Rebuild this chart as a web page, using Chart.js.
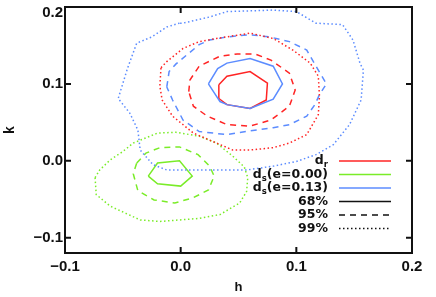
<!DOCTYPE html>
<html><head><meta charset="utf-8">
<script src="https://cdn.jsdelivr.net/npm/chart.js@4"></script>
<style>html,body{margin:0;padding:0;background:#fff}canvas{display:block}</style>
</head><body>
<canvas id="c" width="436" height="297"></canvas>
<script>
// ---- data (h, k) ----
const xTicks = [-0.1, 0.0, 0.1, 0.2];
const xTickLabels = ['\u22120.1', '0.0', '0.1', '0.2'];
const yTicks = [-0.1, 0.0, 0.1, 0.2];
const yTickLabels = ['\u22120.1', '0.0', '0.1', '0.2'];
const xTitle = 'h';
const yTitle = 'k';

// d_r contours
const dr68 = [[0.033,0.099],[0.040,0.110],[0.060,0.116],[0.075,0.101],[0.074,0.079],[0.060,0.068],[0.040,0.073],[0.033,0.081]];
const dr95 = [[0.007,0.090],[0.008,0.105],[0.016,0.123],[0.034,0.136],[0.049,0.139],[0.064,0.139],[0.078,0.131],[0.094,0.114],[0.099,0.092],[0.094,0.071],[0.078,0.053],[0.060,0.045],[0.040,0.047],[0.023,0.058],[0.011,0.071]];
const dr99 = [[-0.017,0.121],[-0.012,0.129],[0.002,0.146],[0.016,0.155],[0.031,0.159],[0.060,0.166],[0.080,0.159],[0.097,0.144],[0.112,0.127],[0.119,0.110],[0.120,0.084],[0.119,0.060],[0.109,0.034],[0.094,0.023],[0.080,0.017],[0.060,0.014],[0.045,0.014],[0.031,0.023],[0.011,0.036],[-0.007,0.058],[-0.016,0.079],[-0.018,0.097]];
// d_s(e=0.00) contours
const e00_68 = [[-0.028,-0.020],[-0.020,-0.003],[-0.001,0.000],[0.010,-0.020],[0.000,-0.033],[-0.020,-0.030]];
const e00_95 = [[-0.038,-0.003],[-0.030,0.010],[-0.018,0.017],[-0.001,0.018],[0.015,0.008],[0.025,-0.007],[0.029,-0.020],[0.024,-0.038],[0.011,-0.048],[-0.005,-0.055],[-0.023,-0.051],[-0.037,-0.039],[-0.041,-0.017]];
const e00_99 = [[-0.074,-0.022],[-0.070,-0.012],[-0.061,0.001],[-0.050,0.012],[-0.041,0.023],[-0.020,0.036],[-0.004,0.037],[0.016,0.032],[0.031,0.023],[0.045,0.006],[0.055,-0.008],[0.058,-0.022],[0.057,-0.040],[0.051,-0.055],[0.034,-0.070],[0.016,-0.075],[-0.018,-0.079],[-0.035,-0.077],[-0.061,-0.059],[-0.073,-0.044]];
// d_s(e=0.13) contours
const e13_68 = [[0.024,0.100],[0.032,0.120],[0.040,0.127],[0.060,0.133],[0.080,0.123],[0.088,0.100],[0.080,0.080],[0.060,0.068],[0.040,0.073],[0.034,0.077]];
const e13_95 = [[-0.012,0.096],[-0.010,0.116],[-0.004,0.126],[0.016,0.151],[0.025,0.157],[0.040,0.161],[0.060,0.164],[0.077,0.161],[0.094,0.155],[0.109,0.144],[0.117,0.123],[0.126,0.100],[0.120,0.086],[0.116,0.073],[0.109,0.058],[0.094,0.047],[0.080,0.043],[0.060,0.039],[0.040,0.034],[0.016,0.038],[0.002,0.053],[-0.007,0.079]];
const e13_99 = [[-0.001,0.179],[-0.012,0.174],[-0.025,0.161],[-0.038,0.153],[-0.046,0.120],[-0.054,0.081],[-0.044,0.062],[-0.037,0.040],[-0.035,0.014],[-0.024,-0.005],[-0.012,-0.012],[0.028,-0.012],[0.057,-0.012],[0.080,-0.007],[0.100,-0.001],[0.117,0.008],[0.132,0.021],[0.146,0.047],[0.156,0.079],[0.158,0.118],[0.155,0.127],[0.149,0.157],[0.140,0.177],[0.117,0.179],[0.100,0.194],[0.080,0.196],[0.040,0.194],[0.025,0.187],[0.002,0.179]];

// legend entries: [main, subscript, rest]
const seriesLegend = [['d','r',''],['d','s','(e=0.00)'],['d','s','(e=0.13)']];
const levelLegend = ['68%','95%','99%'];

// ---- styles ----
const RED = 'rgb(255,36,36)', GREEN = 'rgb(122,236,40)', BLUE = 'rgb(92,140,255)';
const seriesColors = [RED, GREEN, BLUE];
const DASH = [6,5], DOT = [1.5,2.5];
const levelDash = [[], DASH, DOT];

function ds(pts, color, dash) {
  const d = pts.map(p => ({x: p[0], y: p[1]}));
  d.push({x: pts[0][0], y: pts[0][1]});
  return {data: d, borderColor: color, borderWidth: 1.5, borderDash: dash,
          showLine: true, pointRadius: 0, fill: false, tension: 0};
}

const datasets = [
  ds(e13_99, BLUE, DOT), ds(dr99, RED, DOT), ds(e00_99, GREEN, DOT),
  ds(e13_95, BLUE, DASH), ds(dr95, RED, DASH), ds(e00_95, GREEN, DASH),
  ds(e13_68, BLUE, []), ds(dr68, RED, []), ds(e00_68, GREEN, [])
];

const frame = {
  id: 'frame',
  afterDatasetsDraw(chart) {
    const {ctx, chartArea: a, scales: {x, y}} = chart;
    ctx.save();
    ctx.strokeStyle = '#111';
    ctx.lineWidth = 2;
    ctx.setLineDash([]);
    ctx.strokeRect(a.left, a.top, a.right - a.left, a.bottom - a.top);
    const T = 6;
    ctx.beginPath();
    xTicks.forEach(v => {
      const px = x.getPixelForValue(v);
      ctx.moveTo(px, a.bottom); ctx.lineTo(px, a.bottom - T);
      ctx.moveTo(px, a.top); ctx.lineTo(px, a.top + T);
    });
    yTicks.forEach(v => {
      const py = y.getPixelForValue(v);
      ctx.moveTo(a.left, py); ctx.lineTo(a.left + T, py);
      ctx.moveTo(a.right, py); ctx.lineTo(a.right - T, py);
    });
    ctx.stroke();

    // legend
    const textRight = 328, lx0 = 339, lx1 = 391, y0 = 161, step = 13.5;
    const mainFont = 'bold 12.5px "DejaVu Sans"', subFont = 'bold 8.5px "DejaVu Sans"';
    ctx.fillStyle = '#111';
    ctx.textBaseline = 'middle';
    ctx.textAlign = 'left';
    const rows = [];
    seriesLegend.forEach((p, i) => rows.push({parts: p, color: seriesColors[i], dash: []}));
    levelLegend.forEach((t, i) => rows.push({parts: [t, '', ''], color: '#111', dash: levelDash[i]}));
    rows.forEach((r, i) => {
      const yy = y0 + i * step;
      ctx.font = mainFont; const w0 = ctx.measureText(r.parts[0]).width;
      ctx.font = subFont; const w1 = r.parts[1] ? ctx.measureText(r.parts[1]).width : 0;
      ctx.font = mainFont; const w2 = ctx.measureText(r.parts[2]).width;
      let xx = textRight - (w0 + w1 + w2);
      ctx.font = mainFont; ctx.fillText(r.parts[0], xx, yy); xx += w0;
      if (r.parts[1]) { ctx.font = subFont; ctx.fillText(r.parts[1], xx, yy + 4); xx += w1; }
      ctx.font = mainFont; ctx.fillText(r.parts[2], xx, yy);
      ctx.beginPath();
      ctx.strokeStyle = r.color; ctx.lineWidth = 1.6; ctx.setLineDash(r.dash);
      ctx.moveTo(lx0, yy); ctx.lineTo(lx1, yy); ctx.stroke();
    });
    ctx.restore();
  }
};

const tickFont = {family: '"Liberation Sans", Arial, sans-serif', size: 15, weight: 'bold', lineHeight: 0.8};

new Chart(document.getElementById('c'), {
  type: 'scatter',
  data: {datasets},
  options: {
    responsive: false, animation: false, devicePixelRatio: 1,
    layout: {padding: {left: 0, right: 24, top: 7, bottom: 0}},
    plugins: {legend: {display: false}, tooltip: {enabled: false}},
    scales: {
      x: {
        type: 'linear', min: -0.1, max: 0.2,
        afterBuildTicks: s => { s.ticks = xTicks.map(v => ({value: v})); },
        afterFit: s => { s.height = 44; s.paddingLeft = 0; s.paddingRight = 0; },
        grid: {display: false, drawTicks: false}, border: {display: false},
        ticks: {padding: 8, color: '#111', font: tickFont, maxRotation: 0, autoSkip: false,
                callback: (v, i) => xTickLabels[i]},
        title: {display: true, text: xTitle, color: '#111',
                font: {family: '"Liberation Sans", Arial, sans-serif', size: 13, weight: 'bold'},
                padding: {top: 0, bottom: 2}}
      },
      y: {
        type: 'linear', min: -0.12, max: 0.2,
        afterBuildTicks: s => { s.ticks = yTicks.map(v => ({value: v})); },
        afterFit: s => { s.width = 65; s.paddingTop = 0; s.paddingBottom = 0; },
        grid: {display: false, drawTicks: false}, border: {display: false},
        ticks: {padding: 2, color: '#111', font: tickFont, autoSkip: false,
                callback: (v, i) => i === yTicks.length - 1 ? ['', yTickLabels[i]] : yTickLabels[i]},
        title: {display: true, text: yTitle, color: '#111',
                font: {family: '"Liberation Sans", Arial, sans-serif', size: 14, weight: 'bold'},
                padding: {top: 2, bottom: 0}}
      }
    }
  },
  plugins: [frame]
});
</script>
</body></html>
